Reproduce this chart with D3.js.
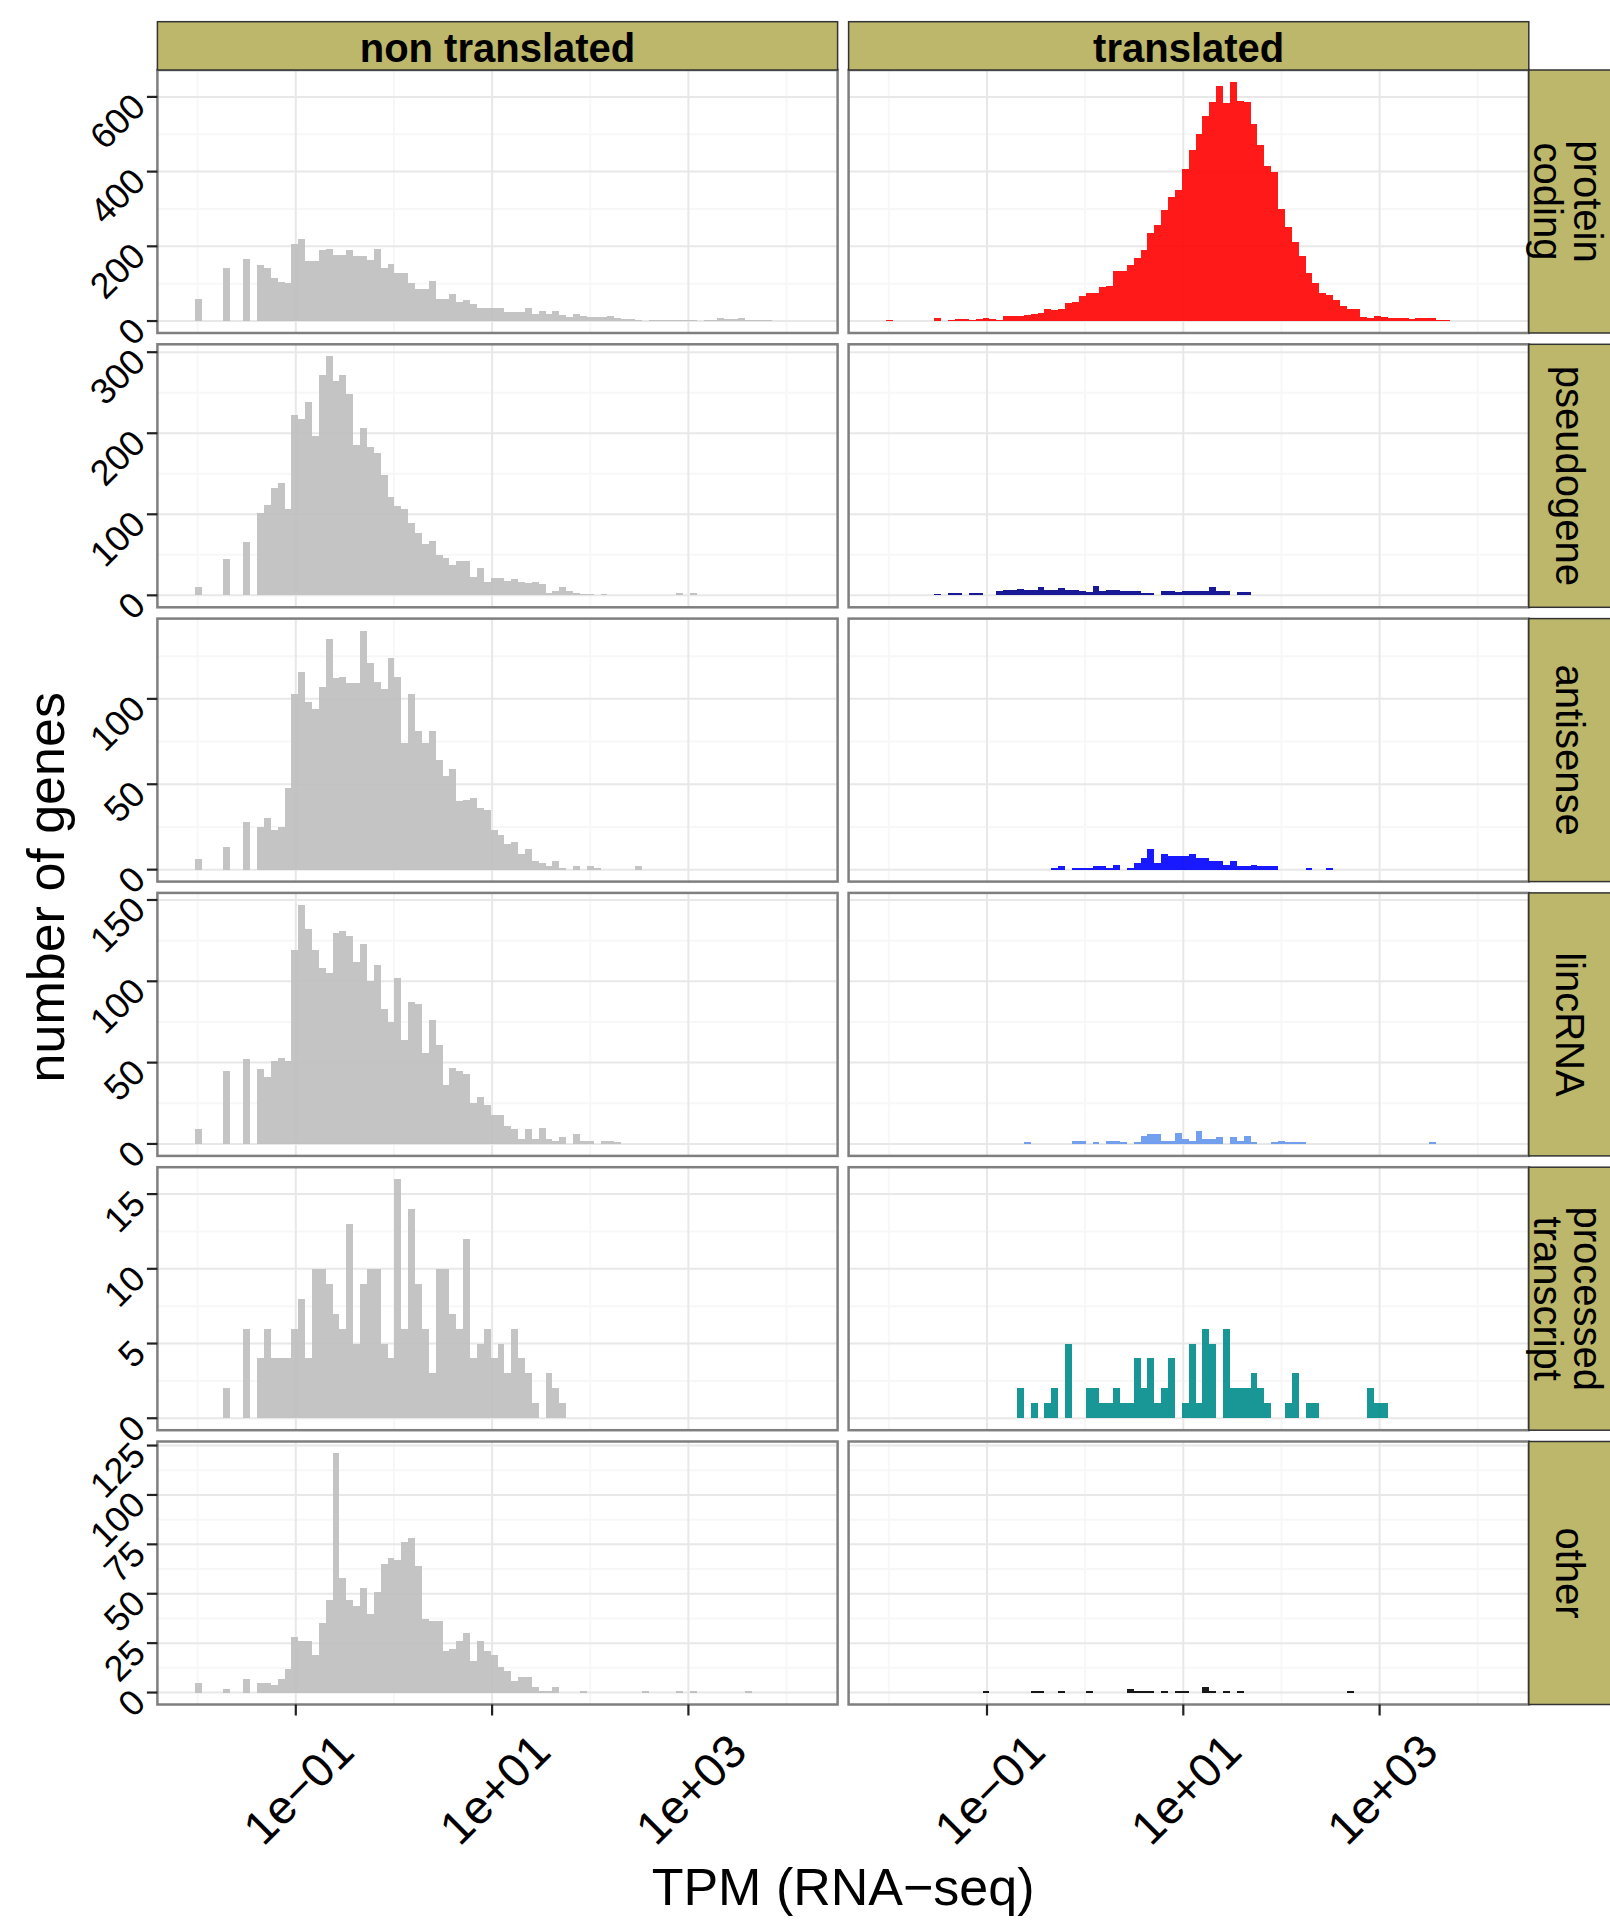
<!DOCTYPE html>
<html>
<head>
<meta charset="utf-8">
<script src="https://d3js.org/d3.v7.min.js"></script>
<style>
  body { margin: 0; background: #fff; }
  text { font-family: "Liberation Sans", Arial, Helvetica, sans-serif; fill: #000; }
</style>
</head>
<body>
<svg id="chart" width="1610" height="1928"></svg>
<script>
// histogram bins, on log10(TPM)
const binStart = -2.095;
const binWidth = 0.07;
const nBins = 90;

const columns = ["non translated", "translated"];
const rowLabels = [["protein", "coding"], ["pseudogene"], ["antisense"], ["lincRNA"], ["processed", "transcript"], ["other"]];
const nonColor = "#bebebe";
const trColors = ["#ff0000", "#00008b", "#0000ff", "#6495ed", "#008b8b", "#000000"];

const xTicks = [0.1, 10, 1000];
const xTickLabels = ["1e\u221201", "1e+01", "1e+03"];
const xMinor = [0.01, 1, 100, 10000];
const yTicks = [[0, 200, 400, 600], [0, 100, 200, 300], [0, 50, 100], [0, 50, 100, 150], [0, 5, 10, 15], [0, 25, 50, 75, 100, 125]];

// counts per bin, from bin 0
const proteinCodingNon = [0,59,0,0,0,141,0,0,165,0, 151,143,114,104,103,205,219,160,160,191, 192,178,178,191,173,173,164,192,142,152, 128,128,101,85,85,107,59,59,72,52, 56,45,36,36,34,34,25,25,25,35, 20,27,20,27,17,10,19,14,11,11, 11,14,9,5,5,3,1,3,3,3, 3,2,2,3,1,3,4,8,5,5, 8,4,4,2,2,1,1,1,1];
const proteinCodingTr = [0,3,0,0,0,1,0,0,8,0, 3,5,5,2,5,8,5,3,13,13, 13,15,18,21,33,30,33,49,52,68, 75,75,92,94,133,133,149,168,189,235, 256,296,333,352,407,458,501,549,587,629, 584,640,588,587,528,472,416,398,299,253, 211,173,128,101,75,69,56,40,32,32, 12,8,13,11,8,8,8,5,8,8, 8,3,3,1,1];
const pseudogeneNon = [0,10,0,0,0,45,0,0,66,0, 101,112,133,138,106,222,217,238,196,272, 295,265,272,248,185,206,183,176,149,121, 110,106,89,77,63,67,50,46,37,42, 42,23,34,16,21,21,18,20,16,15, 16,14,3,5,10,5,3,2,2,0, 2,1,1,0,0,0,0,0,0,0, 1,3,1,3,0,1,0,0,1,1, 1];
const pseudogeneTr = [0,0,0,0,0,0,0,0,2,0, 3,3,0,3,3,1,0,5,7,7, 8,7,7,10,7,7,9,7,7,5, 4,11,5,7,7,5,5,5,3,3, 0,5,5,4,5,5,5,5,10,5, 5,0,4,4];
const antisenseNon = [0,6,0,0,0,13,0,0,28,0, 25,30,23,25,48,103,116,98,94,107, 135,112,113,109,109,140,121,110,106,124, 113,74,103,81,74,81,64,55,59,40, 41,42,36,35,23,20,15,16,9,12, 5,4,2,5,1,0,2,0,2,1, 0,0,0,0,0,2];
const antisenseTr = [0,0,0,0,0,0,0,0,0,0, 0,0,0,0,0,0,0,0,0,0, 0,0,0,0,0,1,2,0,1,1, 1,2,2,1,3,0,1,4,7,12, 4,9,8,8,8,9,7,7,5,5, 3,5,2,2,3,2,2,2,0,0, 0,0,1,0,0,1];
const lincrnaNon = [0,9,0,0,0,45,0,0,52,0, 46,41,51,53,51,119,147,132,119,108, 105,130,131,128,112,123,100,110,83,75, 102,64,87,86,56,76,61,36,47,45, 43,25,29,24,18,18,11,9,3,9, 3,10,3,2,4,0,6,2,2,0, 2,2,1];
const lincrnaTr = [0,0,0,0,0,0,0,0,0,0, 0,0,0,0,0,0,0,0,0,0, 0,1,0,0,0,0,0,0,2,2, 0,1,0,2,2,1,0,1,5,6, 6,2,2,7,3,2,8,3,3,4, 0,4,2,5,1,0,0,1,2,1, 1,1,0,0,0,0,0,0,0,0, 0,0,0,0,0,0,0,0,0,0, 1];
const processedNon = [0,0,0,0,0,2,0,0,6,0, 4,6,4,4,4,6,8,4,10,10, 9,7,6,13,5,9,10,10,5,4, 16,6,14,9,6,3,10,10,7,6, 12,4,5,6,4,5,3,6,4,3, 1,0,3,2,1];
const processedTr = [0,0,0,0,0,0,0,0,0,0, 0,0,0,0,0,0,0,0,0,0, 2,0,1,0,1,2,0,5,0,0, 2,2,1,1,2,1,1,4,2,4, 1,2,4,0,1,5,1,6,5,0, 6,2,2,2,3,2,1,0,0,1, 3,0,1,1,0,0,0,0,0,0, 0,2,1,1];
const otherNon = [0,5,0,0,0,2,0,0,7,0, 5,5,4,7,12,28,26,26,19,35, 47,121,58,47,44,53,40,51,65,68, 67,76,78,64,37,36,36,21,22,26, 30,16,26,21,19,13,11,6,8,8, 3,1,1,3,0,0,0,1,0,0, 0,0,0,0,0,0,1,0,0,0, 0,1,0,1,0,0,0,0,0,0, 0,1];
const otherTr = [0,0,0,0,0,0,0,0,0,0, 0,0,0,0,0,1,0,0,0,0, 0,0,1,1,0,0,1,0,0,0, 1,0,0,0,0,0,2,1,1,1, 0,1,0,1,1,0,0,3,1,0, 1,0,1,0,0,0,0,0,0,0, 0,0,0,0,0,0,0,0,1];

const panels = [
  [proteinCodingNon, proteinCodingTr],
  [pseudogeneNon, pseudogeneTr],
  [antisenseNon, antisenseTr],
  [lincrnaNon, lincrnaTr],
  [processedNon, processedTr],
  [otherNon, otherTr]
];

const svg = d3.select("#chart");
svg.append("rect").attr("width", 1610).attr("height", 1928).attr("fill", "#fff");

const colLeft = [157.4, 848.6];
const panelW = 680.2;
const panelH = 263;
const rowTop = r => 70 + r * 274.3;
const stripTop = 21.7;

// x scale: bin range expanded by 5% each side
const lo = binStart, hi = binStart + nBins * binWidth, pad = 0.05 * (hi - lo);
const x = d3.scaleLog().domain([Math.pow(10, lo - pad), Math.pow(10, hi + pad)]).range([0, panelW]);
// snap bin edges to whole pixels so neighbouring bars meet without seams
const edge = (k, c) => Math.round(colLeft[c] + x(Math.pow(10, binStart + k * binWidth))) - colLeft[c];

panels.forEach((pair, r) => {
  const maxCount = d3.max(pair, arr => d3.max(arr));
  const y = d3.scaleLinear().domain([-0.05 * maxCount, 1.05 * maxCount]).range([panelH, 0]);
  const ticks = yTicks[r];
  const step = ticks[1] - ticks[0];
  const minorY = d3.range(ticks[0] + step / 2, 1.05 * maxCount, step);

  pair.forEach((counts, c) => {
    const g = svg.append("g").attr("transform", `translate(${colLeft[c]},${rowTop(r)})`);
    g.append("rect").attr("width", panelW).attr("height", panelH).attr("fill", "#fff");

    // minor grid
    g.selectAll(".mx").data(xMinor).join("line")
      .attr("x1", d => x(d)).attr("x2", d => x(d)).attr("y1", 0).attr("y2", panelH)
      .attr("stroke", "#f7f7f7").attr("stroke-width", 2);
    g.selectAll(".my").data(minorY).join("line")
      .attr("x1", 0).attr("x2", panelW).attr("y1", d => y(d)).attr("y2", d => y(d))
      .attr("stroke", "#f7f7f7").attr("stroke-width", 2);
    // major grid
    g.selectAll(".gx").data(xTicks).join("line")
      .attr("x1", d => x(d)).attr("x2", d => x(d)).attr("y1", 0).attr("y2", panelH)
      .attr("stroke", "#e8e8e8").attr("stroke-width", 2);
    g.selectAll(".gy").data(ticks).join("line")
      .attr("x1", 0).attr("x2", panelW).attr("y1", d => y(d)).attr("y2", d => y(d))
      .attr("stroke", "#e8e8e8").attr("stroke-width", 2);

    const bins = counts.map((v, k) => ({k: k, v: v})).filter(d => d.v > 0);
    const base = rowTop(r) + y(0);
    g.selectAll(".bar").data(bins).join("rect")
      .attr("x", d => edge(d.k, c))
      .attr("width", d => edge(d.k + 1, c) - edge(d.k, c))
      .attr("y", d => Math.round(rowTop(r) + y(d.v)) - rowTop(r))
      .attr("height", d => Math.round(base) - Math.round(rowTop(r) + y(d.v)))
      .attr("fill", c === 0 ? nonColor : trColors[r])
      .attr("fill-opacity", 0.9)
      .attr("shape-rendering", "crispEdges");

    g.append("rect").attr("width", panelW).attr("height", panelH)
      .attr("fill", "none").attr("stroke", "#7f7f7f").attr("stroke-width", 2.5);

    if (r === 0) {
      svg.append("rect").attr("x", colLeft[c]).attr("y", stripTop)
        .attr("width", panelW).attr("height", rowTop(0) - stripTop)
        .attr("fill", "#bdb76b").attr("stroke", "#333").attr("stroke-width", 1.5);
      svg.append("text").attr("x", colLeft[c] + panelW / 2).attr("y", 61.5)
        .attr("text-anchor", "middle").attr("font-size", 40).attr("font-weight", "bold")
        .text(columns[c]);
    }

    if (c === 0) {
      g.selectAll(".yt").data(ticks).join("line")
        .attr("x1", -10.5).attr("x2", 0).attr("y1", d => y(d)).attr("y2", d => y(d))
        .attr("stroke", "#222").attr("stroke-width", 2.2);
      g.selectAll(".yl").data(ticks).join("text")
        .attr("transform", d => `translate(-22,${y(d)}) rotate(-45)`)
        .attr("dy", "0.47em").attr("text-anchor", "end").attr("font-size", 36)
        .text(d => d);
    }

    if (c === 1) {
      const sx = colLeft[1] + panelW;
      svg.append("rect").attr("x", sx).attr("y", rowTop(r))
        .attr("width", 83).attr("height", panelH)
        .attr("fill", "#bdb76b").attr("stroke", "#333").attr("stroke-width", 1.5);
      const cx = 1565, cy = rowTop(r) + panelH / 2;
      const lines = rowLabels[r];
      const t = svg.append("text").attr("transform", `translate(${cx},${cy}) rotate(90)`)
        .attr("text-anchor", "middle").attr("font-size", 40);
      if (lines.length === 1) {
        t.append("tspan").attr("x", 0).attr("y", 9).text(lines[0]);
      } else {
        t.append("tspan").attr("x", 0).attr("y", -8.5).text(lines[0]);
        t.append("tspan").attr("x", 0).attr("y", 31.5).text(lines[1]);
      }
    }

    if (r === panels.length - 1) {
      g.selectAll(".xt").data(xTicks).join("line")
        .attr("x1", d => x(d)).attr("x2", d => x(d)).attr("y1", panelH).attr("y2", panelH + 11)
        .attr("stroke", "#222").attr("stroke-width", 2.2);
      g.selectAll(".xl").data(xTicks).join("text")
        .attr("transform", (d, i) => `translate(${x(d) + 2.5},${1789 - rowTop(r)}) rotate(-45)`)
        .attr("dy", "0.35em").attr("text-anchor", "middle").attr("font-size", 47)
        .text((d, i) => xTickLabels[i]);
    }
  });
});

// axis titles
svg.append("text").attr("x", (colLeft[0] + colLeft[1] + panelW) / 2).attr("y", 1905)
  .attr("text-anchor", "middle").attr("font-size", 52).text("TPM (RNA\u2212seq)");
svg.append("text").attr("transform", `translate(64,${(rowTop(0) + rowTop(5) + panelH) / 2}) rotate(-90)`)
  .attr("text-anchor", "middle").attr("font-size", 52).text("number of genes");
</script>
</body>
</html>
